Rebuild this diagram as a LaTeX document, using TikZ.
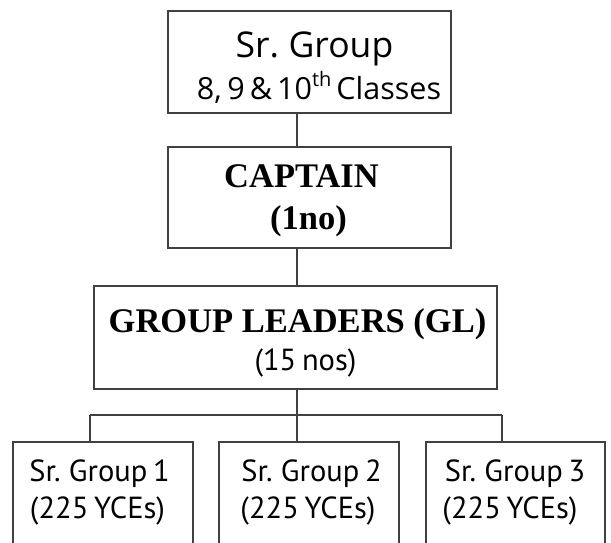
\documentclass[tikz,border=0pt]{standalone}
\usepackage{fontspec}
\setmainfont{Liberation Serif}
\newfontfamily\topsans[WordSpace=0.7]{Open Sans}
\newfontfamily\myriad[WordSpace=0.7]{PT Sans}
\begin{document}
\begin{tikzpicture}[x=1pt,y=-1pt,
  box/.style={draw=black!75, line width=1.6pt, rectangle, inner sep=0pt},
  link/.style={draw=black!75, line width=1.6pt},
  txt/.style={inner sep=0pt, anchor=base},
  small/.style={txt, font=\myriad\fontsize{30.5}{30.5}\selectfont},
  serifb/.style={txt, font=\bfseries\fontsize{34.5}{34.5}\selectfont}]
\useasboundingbox (0,0) rectangle (611,542);
% boxes
\node[box, minimum width=283pt, minimum height=102pt] (top) at (309.5,62) {};
\node[box, minimum width=283pt, minimum height=101pt] (cap) at (309.5,197.5) {};
\node[box, minimum width=403pt, minimum height=103pt] (gl) at (295.5,337.5) {};
\node[box, minimum width=180pt, minimum height=120pt] (g1) at (103,502) {};
\node[box, minimum width=180pt, minimum height=120pt] (g2) at (309,502) {};
\node[box, minimum width=179pt, minimum height=120pt] (g3) at (515.5,502) {};
% texts
\node[txt, font=\topsans\fontsize{35.5}{35.5}\selectfont] (t1) at (314.5,57) {Sr. Group};
\node[txt, font=\topsans\fontsize{30.5}{30.5}\selectfont] (t2) at (319,99.5) {8, 9\,\&\,10\raisebox{0.42em}{\fontsize{20}{20}\selectfont th}\,Classes};
\node[serifb] (c1) at (301.5,187) {CAPTAIN};
\node[serifb] (c2) at (308.5,229) {(1no)};
\node[serifb] (l1) at (297.5,332) {GROUP LEADERS (GL)};
\node[small] (l2) at (305.5,370) {(15 nos)};
\node[small] (a1) at (99.5,481.5) {Sr. Group 1};
\node[small] (a2) at (97.5,518) {(225 YCEs)};
\node[small] (b1) at (311.5,481.5) {Sr. Group 2};
\node[small] (b2) at (308,518) {(225 YCEs)};
\node[small] (d1) at (515,481.5) {Sr. Group 3};
\node[small] (d2) at (510,518) {(225 YCEs)};
% connectors
\coordinate (barL) at (90,415);
\coordinate (barM) at (297,415);
\coordinate (barR) at (502,415);
\draw[link] (top.south -| barM) -- (cap.north -| barM);
\draw[link] (cap.south -| barM) -- (gl.north -| barM);
\draw[link] (gl.south -| barM) -- (barM);
\draw[link] (barL) -- (barR);
\draw[link] (barL) -- (g1.north -| barL);
\draw[link] (barM) -- (g2.north -| barM);
\draw[link] (barR) -- (g3.north -| barR);
\end{tikzpicture}
\end{document}
